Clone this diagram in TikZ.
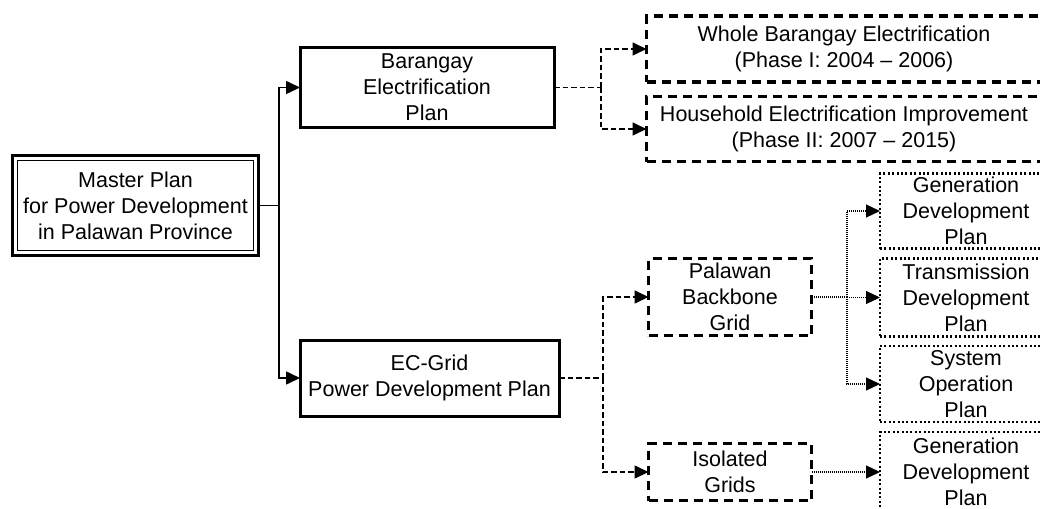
\documentclass[tikz,border=0pt]{standalone}
\usepackage{fontspec}
\setmainfont{Liberation Sans}
\usetikzlibrary{arrows.meta}
\begin{document}
\begin{tikzpicture}[x=1pt,y=-1pt,
  txt/.style={font=\fontsize{21.5}{26}\selectfont, align=center, inner sep=0pt, outer sep=0pt},
  solidbox/.style={txt, draw, line width=3pt, rectangle},
  dashbox/.style={txt, draw, line width=3.2pt, dash pattern=on 9pt off 6pt, rectangle},
  dotbox/.style={txt, draw, line width=2.4pt, dash pattern=on 2pt off 2.4pt, rectangle},
  tip/.style={-{Triangle[length=14pt,width=13pt]}},
  solidconn/.style={tip, line width=1.6pt},
  dashconn/.style={tip, line width=1.6pt, dash pattern=on 5.5pt off 3pt},
  dotconn/.style={tip, line width=1.2pt, dash pattern=on 1pt off 1pt}
]
\useasboundingbox (0,0) rectangle (1040,508);
\clip (0,0) rectangle (1040,508);

% master plan (double border)
\node[solidbox, line width=3.2pt, minimum width=246pt, minimum height=100pt] (master) at (135.5,205.5)
  {Master Plan\\for Power Development\\in Palawan Province};
\draw[line width=1.6pt] ([shift={(5,5)}]master.north west) rectangle ([shift={(-5,-5)}]master.south east);

% level 1
\node[solidbox, minimum width=254pt, minimum height=79pt] (barangay) at (427,87.5)
  {Barangay\\Electrification\\Plan};
\node[solidbox, minimum width=259pt, minimum height=76pt] (ec) at (429.5,378)
  {EC-Grid\\Power Development Plan};

% level 2 (barangay)
\node[dashbox, minimum width=395pt, minimum height=66pt] (whole) at (844,49)
  {Whole Barangay Electrification\\(Phase I: 2004 -- 2006)};
\node[dashbox, minimum width=395pt, minimum height=65pt] (household) at (844,129)
  {Household Electrification Improvement\\(Phase II: 2007 -- 2015)};

% level 2 (ec grid)
\node[dashbox, minimum width=163pt, minimum height=77pt] (palawan) at (730,297)
  {Palawan\\Backbone\\Grid};
\node[dashbox, minimum width=163pt, minimum height=57pt] (isolated) at (730,472)
  {Isolated\\Grids};

% level 3
\node[dotbox, minimum width=172pt, minimum height=75pt] (gen1) at (966,211)
  {Generation\\Development\\Plan};
\node[dotbox, minimum width=172pt, minimum height=78pt] (trans) at (966,297.5)
  {Transmission\\Development\\Plan};
\node[dotbox, minimum width=172pt, minimum height=76pt] (sys) at (966,384)
  {System\\Operation\\Plan};
\node[dotbox, minimum width=172pt, minimum height=80pt] (gen2) at (966,472)
  {Generation\\Development\\Plan};

% connectors
\coordinate (j1) at (279,205.5);
\draw[line width=1.6pt] (master.east) -- (j1);
\draw[solidconn] (j1) |- (barangay.west);
\draw[solidconn] (j1) |- (ec.west);

\coordinate (j2) at (601,87.5);
\draw[dashconn, -] (barangay.east) -- (j2);
\draw[dashconn] (j2) |- (whole.west);
\draw[dashconn] (j2) |- (household.west);

\coordinate (j3) at (603,378);
\draw[dashconn, -] (ec.east) -- (j3);
\draw[dashconn] (j3) |- (palawan.west);
\draw[dashconn] (j3) |- (isolated.west);

\coordinate (j4) at (847,297);
\draw[dotconn, -] (palawan.east) -- (j4);
\draw[dotconn] (j4) |- (gen1.west);
\draw[dotconn] (j4) |- (trans.west);
\draw[dotconn] (j4) |- (sys.west);
\draw[dotconn] (isolated.east) -- (gen2.west);
\end{tikzpicture}
\end{document}
